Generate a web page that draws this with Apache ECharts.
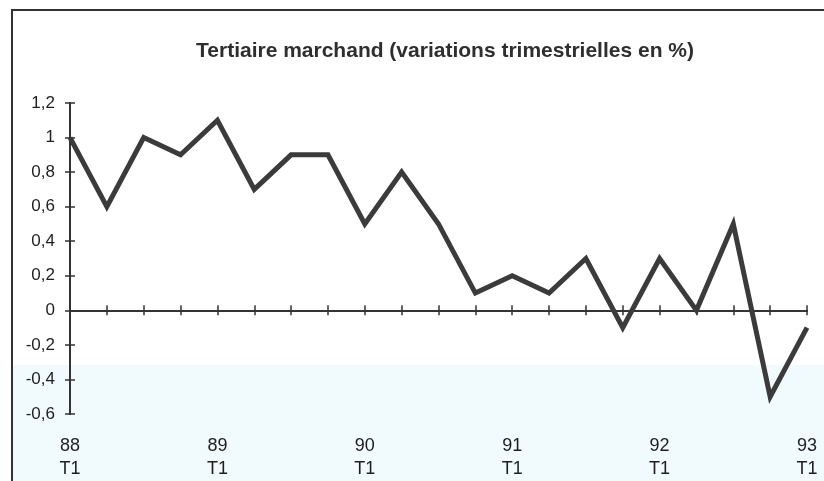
<!DOCTYPE html>
<html>
<head>
<meta charset="utf-8">
<script src="https://cdn.jsdelivr.net/npm/echarts@6/dist/echarts.min.js"></script>
<style>
  html, body { margin: 0; padding: 0; background: #fff; }
  #chart { width: 824px; height: 481px; }
</style>
</head>
<body>
<div id="chart"></div>
<script>
// trimestres 88 T1 -> 93 T1
const quarters = [
  "88\nT1", "88T2", "88T3", "88T4",
  "89\nT1", "89T2", "89T3", "89T4",
  "90\nT1", "90T2", "90T3", "90T4",
  "91\nT1", "91T2", "91T3", "91T4",
  "92\nT1", "92T2", "92T3", "92T4",
  "93\nT1"
];
const variations = [1, 0.6, 1, 0.9, 1.1, 0.7, 0.9, 0.9, 0.5, 0.8, 0.5, 0.1, 0.2, 0.1, 0.3, -0.1, 0.3, 0, 0.5, -0.5, -0.1];
const yTicks = [-0.6, 1.2, 0.2]; // min, max, pas
const titleText = "Tertiaire marchand (variations trimestrielles en %)";

const ink = "#333";
const chart = echarts.init(document.getElementById("chart"));

const fmt = v => String(+v.toFixed(1)).replace(".", ",");

// axe des abscisses : ligne sur zéro (ticks dessous / dessus), + axe pour les libellés
function lineAxis(pos) {
  return {
    type: "category", data: quarters, boundaryGap: false, position: pos,
    axisLine: { onZero: true, lineStyle: { color: ink, width: 2 } },
    axisTick: { show: true, length: 5, interval: 0, lineStyle: { color: ink, width: 1.5 } },
    axisLabel: { show: false }, splitLine: { show: false }
  };
}
function yAxisSide(inside, labels) {
  return {
    type: "value", position: "left",
    min: yTicks[0], max: yTicks[1], interval: yTicks[2],
    axisLine: { show: true, lineStyle: { color: ink, width: 2 } },
    axisTick: { show: true, inside: inside, length: 5, lineStyle: { color: ink, width: 1.5 } },
    axisLabel: {
      show: labels, margin: 15, color: "#1e1e1e", fontSize: 17,
      fontFamily: "Liberation Sans", formatter: fmt
    },
    splitLine: { show: false }
  };
}

const option = {
  backgroundColor: "#fff",
  animation: false,
  graphic: [
    { type: "rect", z: -10, shape: { x: 12, y: 365, width: 812, height: 116 }, style: { fill: "#f1fafd" } },
    { type: "line", shape: { x1: 11, y1: 10, x2: 824, y2: 10 }, style: { stroke: ink, lineWidth: 2 } },
    { type: "line", shape: { x1: 12, y1: 10, x2: 12, y2: 481 }, style: { stroke: ink, lineWidth: 2 } }
  ],
  title: {
    text: titleText, left: 440, top: 36, textAlign: "center",
    textStyle: { fontFamily: "'Liberation Sans Narrow', 'Liberation Sans'", fontWeight: "bold", fontSize: 21, color: "#2e2e2e" }
  },
  grid: { left: 70, right: 17, top: 103, bottom: 66, containLabel: false },
  xAxis: [
    lineAxis("bottom"),
    lineAxis("top"),
    {
      type: "category", data: quarters, boundaryGap: false, position: "bottom",
      axisLine: { show: false, onZero: false }, axisTick: { show: false },
      axisLabel: {
        interval: 0, margin: 21, color: "#1e1e1e", fontSize: 18, lineHeight: 23,
        fontFamily: "Liberation Sans",
        formatter: v => (v.indexOf("\n") >= 0 ? v : "")
      }
    }
  ],
  yAxis: [yAxisSide(false, true), yAxisSide(true, false)],
  series: [{
    type: "line", data: variations, xAxisIndex: 0, yAxisIndex: 0,
    symbol: "none", smooth: false,
    lineStyle: { color: "#3b3b3b", width: 5, join: "miter" }
  }]
};
chart.setOption(option);
</script>
</body>
</html>
